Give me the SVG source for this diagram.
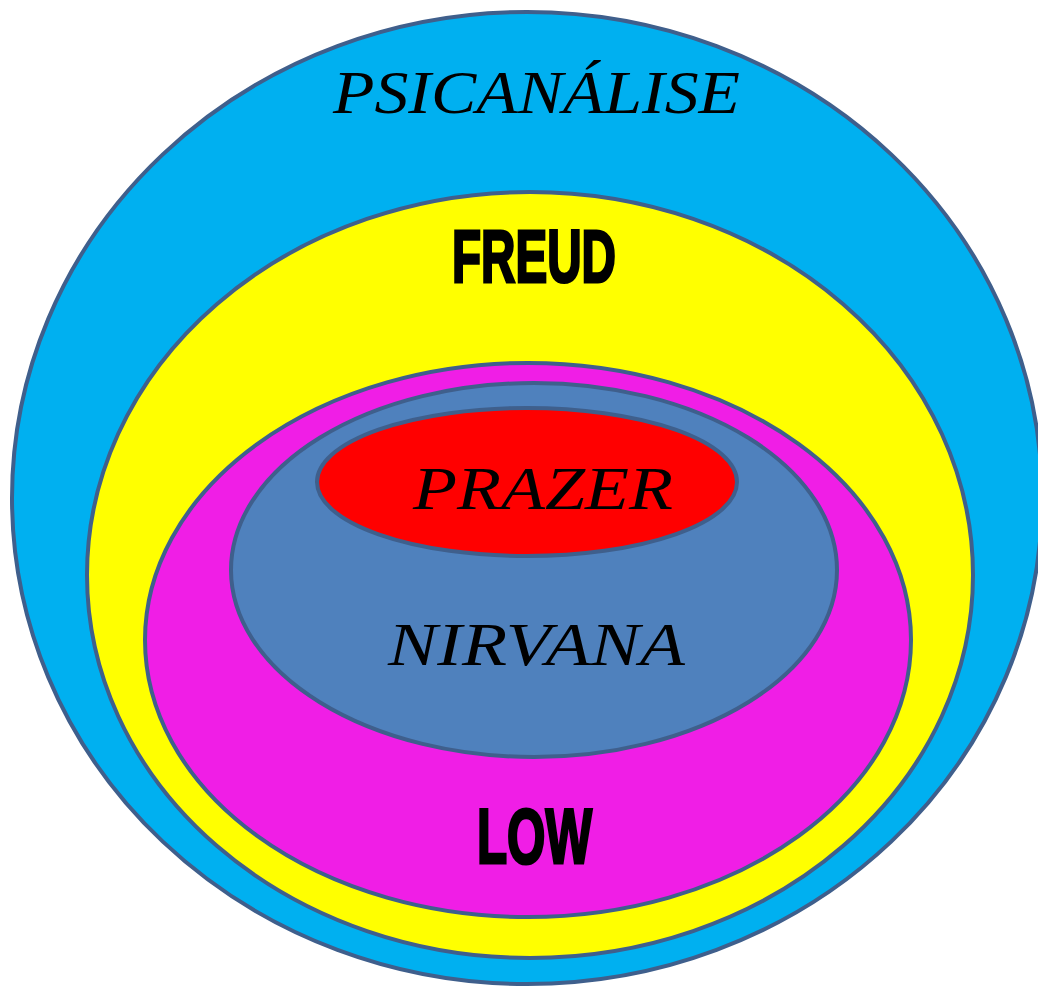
<svg xmlns="http://www.w3.org/2000/svg" width="1038" height="987" viewBox="0 0 1038 987">
<style>
.ring{stroke:#3F5F8C;stroke-width:4}
.script{font-family:"Liberation Serif","DejaVu Serif",serif;font-style:italic;fill:#000}
.bold{font-family:"Liberation Sans","DejaVu Sans",sans-serif;font-weight:bold;fill:#000;stroke:#000;stroke-width:3;stroke-linejoin:miter}
</style>
<rect width="1038" height="987" fill="#fff"/>
<g id="psicanalise">
<ellipse class="ring" cx="527" cy="498" rx="515" ry="486" fill="#00B0F0"/>
<text class="script" x="333" y="113" font-size="62" textLength="407" lengthAdjust="spacingAndGlyphs">PSICANÁLISE</text>
</g>
<g id="freud">
<ellipse class="ring" cx="530" cy="575" rx="443" ry="383" fill="#FFFF00"/>
<text class="bold" x="452" y="282" font-size="75" textLength="164" lengthAdjust="spacingAndGlyphs">FREUD</text>
</g>
<g id="low">
<ellipse class="ring" cx="528" cy="640" rx="383" ry="277" fill="#F01EE6"/>
<text class="bold" x="477" y="863" font-size="77" textLength="115" lengthAdjust="spacingAndGlyphs">LOW</text>
</g>
<g id="nirvana">
<ellipse class="ring" cx="534" cy="570" rx="303" ry="187" fill="#4F81BD"/>
<text class="script" x="388" y="665" font-size="62" textLength="297" lengthAdjust="spacingAndGlyphs">NIRVANA</text>
</g>
<g id="prazer">
<ellipse class="ring" cx="527" cy="482" rx="210" ry="74" fill="#FF0000" stroke-width="5"/>
<text class="script" x="413" y="509" font-size="61" textLength="260" lengthAdjust="spacingAndGlyphs">PRAZER</text>
</g>
<g id="connectors"/>
</svg>
